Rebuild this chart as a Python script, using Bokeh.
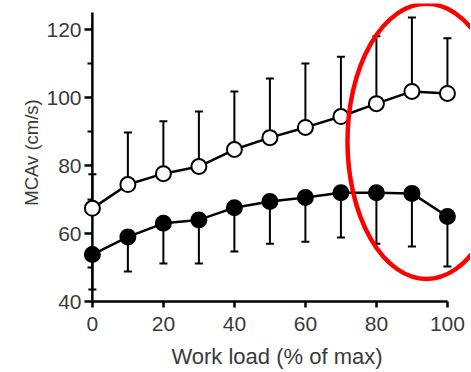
from bokeh.plotting import figure
from bokeh.models import ColumnDataSource, Whisker, TeeHead, FixedTicker, Range1d
from bokeh.embed import file_html
from bokeh.resources import INLINE

workload = [0, 10, 20, 30, 40, 50, 60, 70, 80, 90, 100]
open_mean = [67.4, 74.4, 77.6, 79.7, 84.7, 88.2, 91.2, 94.4, 98.2, 101.8, 101.2]
open_upper = [77.4, 89.7, 93.0, 95.9, 101.8, 105.6, 110.0, 112.0, 118.0, 123.5, 117.4]
filled_mean = [53.8, 59.0, 63.0, 64.0, 67.6, 69.4, 70.6, 72.0, 72.0, 71.8, 65.0]
filled_lower = [43.5, 48.8, 51.2, 51.2, 54.7, 57.0, 57.6, 58.8, 57.0, 56.2, 50.3]

x_ticks = [0, 20, 40, 60, 80, 100]
y_ticks = [40, 60, 80, 100, 120]
y_minor = [50, 70, 90, 110]
x_bounds = (0, 100)
y_bounds = (40, 125)

# highlight ellipse (in data units)
ell_x, ell_y, ell_w, ell_h = [94.1], [87.1], [44.5], [80.9]

src_open = ColumnDataSource(dict(x=workload, m=open_mean, u=open_upper))
src_fill = ColumnDataSource(dict(x=workload, m=filled_mean, l=filled_lower))

p = figure(frame_width=387, frame_height=298,
           x_range=Range1d(-2.5, 106.5), y_range=Range1d(40, 127.65),
           output_backend="svg", toolbar_location=None,
           min_border_left=83, min_border_right=0, min_border_top=3,
           min_border_bottom=66)
p.outline_line_color = None
p.xgrid.visible = False
p.ygrid.visible = False
p.background_fill_color = "white"

TXT = "#3a3a3a"
FONT = "Liberation Sans"

for ax in (p.xaxis[0], p.yaxis[0]):
    ax.axis_line_width = 2.5
    ax.axis_line_color = "black"
    ax.major_tick_line_width = 2.5
    ax.minor_tick_line_width = 2
    ax.major_tick_line_color = "black"
    ax.minor_tick_line_color = "black"
    ax.major_label_text_font = FONT
    ax.major_label_text_color = TXT
    ax.major_label_text_font_size = "21px"
    ax.axis_label_text_font = FONT
    ax.axis_label_text_color = TXT
    ax.axis_label_text_font_style = "normal"

p.xaxis.ticker = FixedTicker(ticks=x_ticks, minor_ticks=[])
p.xaxis.bounds = x_bounds
p.xaxis.major_tick_in = 0
p.xaxis.major_tick_out = 6
p.xaxis.major_label_standoff = 9
p.xaxis.axis_label = "Work load (% of max)"
p.xaxis.axis_label_text_font_size = "22px"
p.xaxis.axis_label_standoff = 10

# y axis: frame starts slightly left of x=0 so that the markers at x=0 are not
# clipped; the axis line is drawn at x=0 and the ticks are shifted onto it.
p.yaxis.ticker = FixedTicker(ticks=y_ticks, minor_ticks=y_minor)
p.yaxis.axis_line_color = None
p.yaxis.major_tick_in = 9
p.yaxis.major_tick_out = -1
p.yaxis.minor_tick_in = 9
p.yaxis.minor_tick_out = -4
p.yaxis.major_label_standoff = 3
p.yaxis.axis_label = "MCAv (cm/s)"
p.yaxis.axis_label_text_font_size = "18.5px"
p.yaxis.axis_label_standoff = 1

p.segment(x0=[x_bounds[0]], y0=[y_bounds[0]], x1=[x_bounds[0]], y1=[y_bounds[1]],
          line_color="black", line_width=2.5)

# error bars
w_open = Whisker(source=src_open, base="x", lower="m", upper="u",
                 line_color="black", line_width=2,
                 upper_head=TeeHead(size=8, line_width=2, line_color="black"),
                 lower_head=None)
w_fill = Whisker(source=src_fill, base="x", lower="l", upper="m",
                 line_color="black", line_width=2,
                 lower_head=TeeHead(size=8, line_width=2, line_color="black"),
                 upper_head=None)
p.add_layout(w_open)
p.add_layout(w_fill)

p.line("x", "m", source=src_open, line_color="black", line_width=2.5)
p.line("x", "m", source=src_fill, line_color="black", line_width=2.5)
p.scatter("x", "m", source=src_open, size=15, fill_color="white",
          line_color="black", line_width=2)
p.scatter("x", "m", source=src_fill, size=15, fill_color="black",
          line_color="black", line_width=2)

p.ellipse(x=ell_x, y=ell_y, width=ell_w, height=ell_h, fill_color=None,
          line_color="#ff0000", line_width=4.5)

open("out.html", "w").write(file_html(p, INLINE))
